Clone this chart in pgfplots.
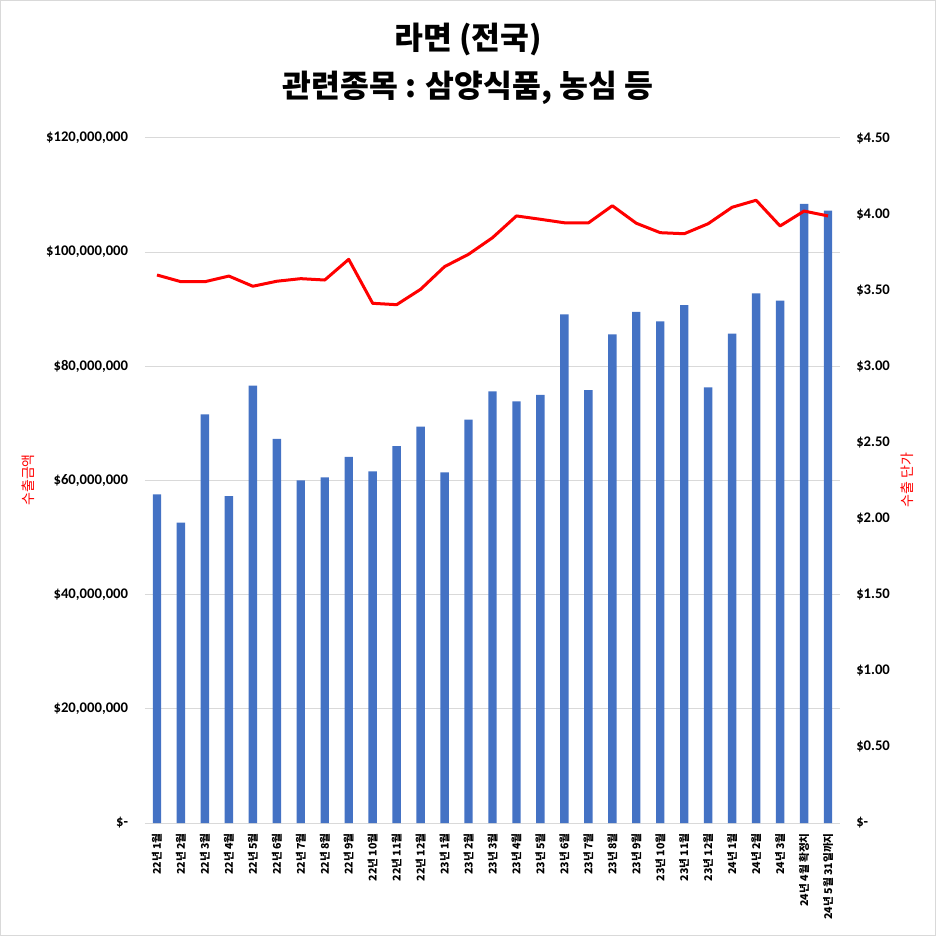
\documentclass[border=0pt]{standalone}
\usepackage{fontspec}
\usepackage{pgfplots}
\pgfplotsset{compat=1.18}
\setmainfont{Carlito}
\newfontfamily\kr{Noto Sans CJK KR}
\definecolor{barblue}{HTML}{4472C4}
\definecolor{gridgray}{HTML}{D9D9D9}
\definecolor{linered}{HTML}{FF0000}
\pgfplotstableread{
x amount price
0 57580000 3.600
1 52610000 3.556
2 71590000 3.556
3 57280000 3.593
4 76610000 3.526
5 67270000 3.559
6 60030000 3.576
7 60560000 3.567
8 64120000 3.703
9 61610000 3.414
10 66040000 3.405
11 69430000 3.506
12 61430000 3.655
13 70660000 3.736
14 75620000 3.845
15 73870000 3.988
16 74980000 3.966
17 89110000 3.943
18 75850000 3.942
19 85610000 4.055
20 89520000 3.940
21 87890000 3.878
22 90740000 3.871
23 76320000 3.937
24 85720000 4.045
25 92790000 4.091
26 91500000 3.922
27 108440000 4.020
28 107260000 3.988
}\data
\begin{document}
\begin{tikzpicture}[x=0.75pt,y=0.75pt]
\useasboundingbox (0,0) rectangle (936,936);
\draw[gridgray, line width=0.75pt] (0.5,0.5) rectangle (935.5,935.5);
\node[font=\kr\bfseries\fontsize{23.5}{27}\selectfont] at (468,897) {라면 (전국)};
\node[font=\kr\bfseries\fontsize{23.5}{27}\selectfont] at (468,848) {관련종목 : 삼양식품, 농심 등};
\node[rotate=90, text=linered, font=\kr\fontsize{10.5}{12}\selectfont] at (28,456) {수출금액};
\node[rotate=90, text=linered, font=\kr\fontsize{10.5}{12}\selectfont] at (907,456) {수출 단가};
\begin{axis}[
  at={(108.75pt,84.75pt)}, anchor=south west,
  width=521.25pt, height=513.75pt, scale only axis,
  xmin=-0.5, xmax=28.5, ymin=0, ymax=120000000,
  axis x line*=bottom, axis y line*=left,
  x axis line style={draw=gridgray, line width=0.75pt},
  y axis line style={draw=none},
  major tick length=0pt,
  ymajorgrids, grid style={gridgray, line width=0.75pt},
  ytick={0,20000000,40000000,60000000,80000000,100000000,120000000},
  yticklabels={\$-\hspace{4pt},{\$20,000,000},{\$40,000,000},{\$60,000,000},{\$80,000,000},{\$100,000,000},{\$120,000,000}},
  yticklabel style={font=\bfseries\fontsize{11}{13}\selectfont, inner sep=0pt, anchor=east, xshift=-12.5pt},
  xtick=data,
  xticklabels={22년 1월,22년 2월,22년 3월,22년 4월,22년 5월,22년 6월,22년 7월,22년 8월,22년 9월,22년 10월,22년 11월,22년 12월,23년 1월,23년 2월,23년 3월,23년 4월,23년 5월,23년 6월,23년 7월,23년 8월,23년 9월,23년 10월,23년 11월,23년 12월,24년 1월,24년 2월,24년 3월,24년 4월 확정치,24년 5월 31일까지},
  xticklabel style={font=\kr\bfseries\fontsize{8}{9}\selectfont, rotate=90, anchor=east, inner sep=0pt},
  xticklabel shift=7.5pt,
  scaled y ticks=false,
]
\addplot[ybar, bar width=6.3pt, fill=barblue, draw=none] table[x=x, y=amount] {\data};
\end{axis}
\begin{axis}[
  at={(108.75pt,84.75pt)}, anchor=south west,
  width=521.25pt, height=513.75pt, scale only axis,
  xmin=-0.5, xmax=28.5, ymin=0, ymax=4.5,
  axis x line=none, axis y line*=right,
  y axis line style={draw=none},
  major tick length=0pt,
  ytick={0,0.5,1,1.5,2,2.5,3,3.5,4,4.5},
  yticklabels={\$-,\$0.50,\$1.00,\$1.50,\$2.00,\$2.50,\$3.00,\$3.50,\$4.00,\$4.50},
  yticklabel style={font=\bfseries\fontsize{11}{13}\selectfont, inner sep=0pt, anchor=west, xshift=12pt},
]
\addplot[linered, line width=2.25pt, line join=round, mark=none] table[x=x, y=price] {\data};
\end{axis}
\end{tikzpicture}
\end{document}
